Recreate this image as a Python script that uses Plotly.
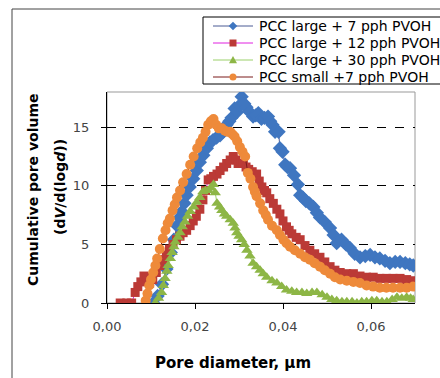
import plotly.graph_objects as go

# ---- data ----
series_names = ["PCC large + 7 pph PVOH", "PCC large + 12 pph PVOH",
                "PCC large + 30 pph PVOH", "PCC small +7 pph PVOH"]

x_large7 = [0.0105,0.0115,0.0125,0.0135,0.0145,0.0152,0.0159,0.0165,0.0170,0.0176,
            0.0181,0.0188,0.0196,0.0204,0.0211,0.0219,0.0227,0.0234,0.0241,0.0249,
            0.0257,0.0264,0.0272,0.0278,0.0283,0.0290,0.0296,0.0302,0.0306,0.0312,
            0.0317,0.0324,0.0332,0.0338,0.0344,0.0351,0.0358,0.0366,0.0371,0.0376,
            0.0382,0.0390,0.0393,0.0399,0.0405,0.0410,0.0416,0.0425,0.0434,0.0439,
            0.0445,0.0452,0.0460,0.0469,0.0477,0.0484,0.0495,0.0507,0.0515,0.0522,
            0.0533,0.0543,0.0552,0.0563,0.0575,0.0587,0.0598,0.0609,0.0620,0.0632,
            0.0643,0.0655,0.0666,0.0678,0.0688,0.0696]
y_large7 = [0.0,0.6,1.6,2.9,4.3,5.4,6.6,7.3,7.8,8.5,
            9.2,9.9,10.6,11.3,12.0,12.6,13.2,13.7,13.9,14.1,
            14.3,14.6,15.2,15.5,15.8,16.6,16.3,16.9,17.6,17.0,
            16.7,16.3,15.9,16.0,16.2,15.7,15.8,15.9,15.5,15.2,
            14.6,14.6,13.2,12.9,11.8,11.6,11.5,10.9,10.1,9.2,
            9.0,8.7,8.5,8.2,7.7,7.3,6.9,6.4,5.8,5.1,
            5.4,5.0,4.7,4.2,3.9,4.0,4.1,3.9,3.8,3.6,
            3.4,3.5,3.5,3.4,3.3,3.2]

x_large12 = [0.0030,0.0045,0.0056,0.0064,0.0070,0.0077,0.0084,0.0091,0.0097,0.0104,
             0.0112,0.0120,0.0128,0.0135,0.0142,0.0150,0.0158,0.0166,0.0173,0.0181,
             0.0189,0.0196,0.0203,0.0211,0.0218,0.0224,0.0230,0.0236,0.0242,0.0250,
             0.0257,0.0265,0.0272,0.0280,0.0287,0.0293,0.0298,0.0304,0.0310,0.0316,
             0.0322,0.0330,0.0340,0.0346,0.0352,0.0358,0.0363,0.0370,0.0378,0.0386,
             0.0393,0.0400,0.0408,0.0414,0.0420,0.0430,0.0439,0.0450,0.0461,0.0472,
             0.0484,0.0495,0.0507,0.0518,0.0530,0.0545,0.0560,0.0575,0.0590,0.0605,
             0.0620,0.0635,0.0650,0.0666,0.0681,0.0696]
y_large12 = [0.0,0.0,0.0,0.9,1.4,1.8,2.3,2.2,1.7,2.0,
             2.6,3.2,3.7,4.1,4.6,5.0,5.4,5.7,6.0,6.2,
             6.6,7.0,7.4,8.0,8.8,9.6,10.5,10.6,10.8,11.0,
             11.3,11.6,11.9,12.2,12.5,12.2,11.9,11.9,11.9,11.6,
             11.4,11.2,11.0,10.4,9.9,9.6,9.4,8.9,8.5,8.0,
             7.6,7.0,6.5,6.2,5.9,5.6,5.4,4.9,4.5,4.2,
             3.9,3.5,3.1,2.8,2.6,2.5,2.5,2.3,2.2,2.2,
             2.1,2.1,2.1,2.1,2.0,1.9]

x_large30 = [0.0110,0.0117,0.0124,0.0128,0.0132,0.0136,0.0139,0.0144,0.0148,0.0152,
             0.0155,0.0161,0.0166,0.0171,0.0177,0.0183,0.0189,0.0197,0.0204,0.0211,
             0.0218,0.0224,0.0230,0.0236,0.0242,0.0246,0.0250,0.0256,0.0261,0.0267,
             0.0272,0.0280,0.0287,0.0291,0.0295,0.0300,0.0306,0.0312,0.0318,0.0325,
             0.0332,0.0340,0.0348,0.0355,0.0363,0.0375,0.0386,0.0397,0.0408,0.0420,
             0.0431,0.0443,0.0454,0.0466,0.0477,0.0489,0.0500,0.0511,0.0522,0.0534,
             0.0545,0.0557,0.0568,0.0579,0.0590,0.0602,0.0613,0.0625,0.0636,0.0648,
             0.0659,0.0670,0.0681,0.0690,0.0696]
y_large30 = [0.0,0.4,0.9,1.5,2.1,2.7,3.2,3.8,4.3,4.8,
             5.2,5.6,6.0,6.5,6.9,7.4,7.8,8.2,8.6,9.0,
             9.5,9.6,9.6,9.8,10.1,9.4,8.5,8.2,7.9,7.6,
             7.4,7.1,6.8,6.4,6.0,5.7,5.4,5.0,4.5,4.0,
             3.4,3.1,2.8,2.5,2.2,1.9,1.7,1.4,1.1,1.0,
             0.9,0.9,0.8,0.9,0.9,0.7,0.5,0.3,0.2,0.1,
             0.1,0.1,0.0,0.1,0.1,0.2,0.2,0.1,0.1,0.3,
             0.5,0.4,0.5,0.4,0.3]

x_small7 = [0.0088,0.0092,0.0096,0.0100,0.0105,0.0110,0.0114,0.0120,0.0127,0.0133,
            0.0138,0.0143,0.0149,0.0154,0.0159,0.0166,0.0173,0.0181,0.0189,0.0197,
            0.0205,0.0212,0.0218,0.0224,0.0230,0.0236,0.0242,0.0248,0.0254,0.0261,
            0.0268,0.0274,0.0280,0.0285,0.0290,0.0296,0.0302,0.0308,0.0314,0.0320,
            0.0326,0.0332,0.0336,0.0340,0.0348,0.0355,0.0361,0.0366,0.0375,0.0386,
            0.0393,0.0401,0.0408,0.0416,0.0427,0.0439,0.0450,0.0461,0.0472,0.0484,
            0.0495,0.0507,0.0518,0.0530,0.0545,0.0560,0.0575,0.0590,0.0605,0.0620,
            0.0635,0.0650,0.0666,0.0681,0.0696]
y_small7 = [0.2,0.8,1.5,2.0,2.6,3.2,3.8,4.6,5.5,6.2,
            6.8,7.2,7.9,8.4,9.0,9.6,10.3,11.0,11.8,12.5,
            13.2,13.7,14.1,14.6,15.2,15.5,15.7,15.2,14.9,14.9,
            14.7,14.6,14.6,14.4,14.2,13.8,13.3,12.9,12.5,11.1,
            10.6,9.9,9.5,9.1,8.5,7.9,7.5,7.1,6.6,6.2,
            5.8,5.4,5.1,4.8,4.5,4.2,3.9,3.7,3.4,3.1,
            2.8,2.5,2.2,2.0,1.9,1.8,1.7,1.5,1.4,1.3,
            1.3,1.3,1.3,1.3,1.4]

x_ticks = [0.0, 0.02, 0.04, 0.06]
y_ticks = [0, 5, 10, 15]

# ---- styles ----
xs = [x_large7, x_large12, x_large30, x_small7]
ys = [y_large7, y_large12, y_large30, y_small7]
marker_colors = ["#3F76C0", "#BB3A36", "#8DB646", "#EE8A3A"]
line_colors = ["#4B5A94", "#E020E0", "#9BD06B", "#7A1A1A"]
symbols = ["diamond", "square", "triangle-up", "circle"]
sizes = [11, 9, 10, 10]

fig = go.Figure()
for i in range(4):
    fig.add_trace(go.Scatter(
        x=xs[i], y=ys[i], mode="lines+markers", showlegend=False,
        line=dict(color=line_colors[i], width=1),
        marker=dict(symbol=symbols[i], size=sizes[i], color=marker_colors[i],
                    line=dict(width=0)),
        name=series_names[i]))

L, R, T, B = 107, 415, 92, 303
W, H = 440, 378
pw, ph = R - L, B - T

def px(xp):
    return (xp - L) / pw

def py(yp):
    return (B - yp) / ph

shapes = [
    dict(type="rect", xref="paper", yref="paper", x0=0, x1=1, y0=0, y1=1,
         line=dict(color="#999999", width=1), layer="below"),
    dict(type="rect", xref="paper", yref="paper", x0=px(12), x1=px(460),
         y0=py(400), y1=py(9), line=dict(color="#444444", width=1)),
    # legend box
    dict(type="rect", xref="paper", yref="paper", x0=px(203), x1=px(460),
         y0=py(84), y1=py(17), line=dict(color="black", width=1),
         fillcolor="white"),
]
annotations = [
    dict(text="<b>Cumulative pore volume</b>", xref="paper", yref="paper",
         x=px(33), y=py(190), xanchor="center", yanchor="middle",
         textangle=-90, showarrow=False,
         font=dict(family="DejaVu Sans", size=14, color="black")),
    dict(text="<b>(d<i>V</i>/d(log<i>d</i>))</b>", xref="paper", yref="paper",
         x=px(60), y=py(187), xanchor="center", yanchor="middle",
         textangle=-90, showarrow=False,
         font=dict(family="DejaVu Sans", size=14, color="black")),
    dict(text="<b>Pore diameter, µm</b>", xref="paper", yref="paper",
         x=px(233), y=py(363), xanchor="center", yanchor="middle",
         showarrow=False,
         font=dict(family="DejaVu Sans", size=15, color="black")),
]

# hand-laid legend (entries 17 px apart, like the original)
leg_y = [26, 43, 60, 77]
cx, r = 233, 3.5
for i, name in enumerate(series_names):
    yc = leg_y[i]
    shapes.append(dict(type="line", xref="paper", yref="paper",
                       x0=px(213), x1=px(253), y0=py(yc), y1=py(yc),
                       line=dict(color=line_colors[i], width=1)))
    mk = dict(xref="paper", yref="paper", line=dict(width=0),
              fillcolor=marker_colors[i])
    if symbols[i] == "diamond":
        d = r + 0.8
        path = (f"M{px(cx)},{py(yc - d)} L{px(cx + d)},{py(yc)} "
                f"L{px(cx)},{py(yc + d)} L{px(cx - d)},{py(yc)} Z")
        shapes.append(dict(type="path", path=path, **mk))
    elif symbols[i] == "square":
        shapes.append(dict(type="rect", x0=px(cx - r), x1=px(cx + r),
                           y0=py(yc + r), y1=py(yc - r), **mk))
    elif symbols[i] == "triangle-up":
        d = r + 0.5
        path = (f"M{px(cx)},{py(yc - d)} L{px(cx + d)},{py(yc + d * 0.8)} "
                f"L{px(cx - d)},{py(yc + d * 0.8)} Z")
        shapes.append(dict(type="path", path=path, **mk))
    else:
        shapes.append(dict(type="circle", x0=px(cx - r), x1=px(cx + r),
                           y0=py(yc + r), y1=py(yc - r), **mk))
    annotations.append(dict(text=name, xref="paper", yref="paper",
                            x=px(257), y=py(yc), xanchor="left", yanchor="middle",
                            showarrow=False,
                            font=dict(family="DejaVu Sans", size=14, color="black")))

fig.update_layout(
    width=W, height=H,
    margin=dict(l=L, r=W - R, t=T, b=H - B, pad=0, autoexpand=False),
    plot_bgcolor="white", paper_bgcolor="white",
    separators=", ",
    showlegend=False,
    font=dict(family="DejaVu Sans", color="black"),
    xaxis=dict(range=[0, 0.07], tickvals=x_ticks, tickformat=".2f",
               ticks="outside", ticklen=5, tickcolor="black",
               showline=True, linecolor="black", linewidth=1,
               showgrid=False, zeroline=False, ticklabelstandoff=6,
               tickfont=dict(family="DejaVu Sans", size=13, color="#444444")),
    yaxis=dict(range=[0, 18], tickvals=y_ticks,
               ticks="outside", ticklen=5, tickcolor="black",
               showline=True, linecolor="black", linewidth=1,
               showgrid=True, gridcolor="black", gridwidth=1, griddash="dash",
               zeroline=False, ticklabelstandoff=9,
               tickfont=dict(family="DejaVu Sans", size=13, color="#444444")),
    shapes=shapes,
    annotations=annotations,
)

fig.write_html("out.html")
